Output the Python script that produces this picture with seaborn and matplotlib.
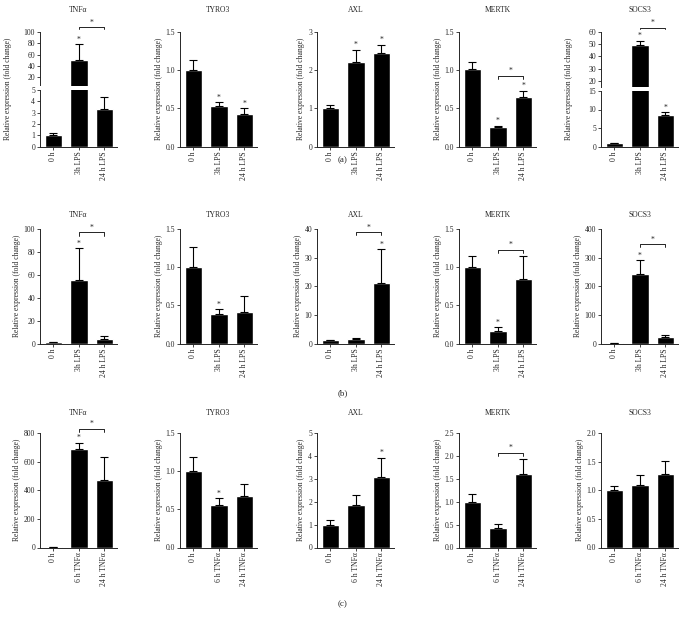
import numpy as np
import seaborn as sns
import matplotlib.pyplot as plt
from matplotlib.ticker import FormatStrFormatter

genes = ["TNFα", "TYRO3", "AXL", "MERTK", "SOCS3"]
lps_groups = ["0 h", "3h LPS", "24 h LPS"]
tnf_groups = ["0 h", "6 h TNFα", "24 h TNFα"]

# (a) LPS
a_means = [[1.05, 50, 3.3], [1.0, 0.53, 0.42], [1.0, 2.22, 2.45], [1.01, 0.26, 0.65], [1.0, 49, 8.4]]
a_errs = [[0.12, 28, 1.1], [0.13, 0.05, 0.08], [0.08, 0.32, 0.22], [0.10, 0.015, 0.08], [0.05, 4, 0.9]]
a_stars = [[0, 1, 0], [0, 1, 1], [0, 1, 1], [0, 1, 1], [0, 1, 1]]
a_brackets = [109, None, None, 0.93, 63.5]

# (b) LPS
b_means = [[1.0, 55.5, 4.2], [1.0, 0.39, 0.41], [1.1, 1.6, 21], [1.0, 0.17, 0.84], [1.0, 243, 22]]
b_errs = [[0.3, 27.5, 2.6], [0.27, 0.06, 0.21], [0.25, 0.35, 12], [0.15, 0.04, 0.31], [0.3, 48, 6]]
b_stars = [[0, 1, 0], [0, 1, 0], [0, 0, 1], [0, 1, 0], [0, 1, 0]]
b_brackets = [97, None, 39, 1.23, 348]

# (c) TNFα
c_means = [[2, 688, 470], [1.0, 0.56, 0.67], [1.0, 1.86, 3.1], [1.0, 0.43, 1.6], [1.0, 1.1, 1.28]]
c_errs = [[1, 45, 165], [0.18, 0.09, 0.16], [0.18, 0.44, 0.82], [0.17, 0.09, 0.33], [0.07, 0.17, 0.23]]
c_stars = [[0, 1, 0], [0, 1, 0], [0, 0, 1], [0, 0, 0], [0, 0, 0]]
c_brackets = [830, None, None, 2.07, None]

a_ylims = [None, 1.5, 3, 1.5, None]
b_ylims = [100, 1.5, 40, 1.5, 400]
c_ylims = [800, 1.5, 5, 2.5, 2.0]
a_steps = [None, 0.5, 1, 0.5, None]
b_steps = [20, 0.5, 10, 0.5, 100]
c_steps = [200, 0.5, 1, 0.5, 0.5]

sns.set_style("ticks")
plt.rcParams['font.family'] = ['Liberation Serif', 'DejaVu Serif']
plt.rcParams['axes.linewidth'] = 0.7

W, H = 686, 626
fig = plt.figure(figsize=(6.86, 6.26), dpi=100)

col_left = [40, 180, 317, 459, 601]
ax_w = 77
row_top = [32, 229, 433]
ax_h = 114.5
title_y = [10, 215, 413]
FS = 5.5
YLABEL = "Relative expression (fold change)"


def add_ax(x, y_top, h):
    return fig.add_axes([x / W, 1 - (y_top + h) / H, ax_w / W, h / H])


def style_ax(ax, show_x=True):
    sns.despine(ax=ax)
    ax.set_xlim(-0.53, 2.5)
    ax.tick_params(axis='both', length=2, width=0.6, pad=1.5, labelsize=FS)
    ax.tick_params(axis='x', labelrotation=90)
    ax.set_xlabel("")
    ax.set_ylabel("")
    if not show_x:
        ax.spines['bottom'].set_visible(False)
        ax.tick_params(axis='x', bottom=False, labelbottom=False)


def draw_bars(ax, groups, means, errs, keep=(True, True, True)):
    sns.barplot(x=groups, y=means, color='black', saturation=1, width=0.69,
                errorbar=None, ax=ax)
    idx = [i for i in range(3) if keep[i]]
    if idx:
        m = np.array(means)[idx]
        e = np.array(errs)[idx]
        ax.errorbar(idx, m, yerr=[np.zeros(len(idx)), e], fmt='none',
                    ecolor='black', elinewidth=0.8, capsize=2.6, capthick=0.8)


def star(ax, x, y):
    ax.annotate('*', (x, y), xytext=(0, 0.3), textcoords='offset points',
                ha='center', va='bottom', fontsize=FS, annotation_clip=False)


def bracket(ax, y, span):
    d = 0.03 * span
    ax.plot([1, 1, 2, 2], [y - d, y, y, y - d], color='black', lw=0.6, clip_on=False)
    star(ax, 1.5, y)


def simple_panel(x, top, groups, means, errs, stars, br, ymax, step):
    ax = add_ax(x, top, ax_h)
    draw_bars(ax, groups, means, errs)
    ax.set_ylim(0, ymax)
    ax.set_yticks(np.arange(0, ymax + step / 2, step))
    style_ax(ax)
    if step < 1:
        ax.yaxis.set_major_formatter(FormatStrFormatter('%.1f'))
    ax.set_ylabel(YLABEL, fontsize=FS, labelpad=2)
    for i in range(3):
        if stars[i]:
            star(ax, i, means[i] + errs[i])
    if br is not None:
        bracket(ax, br, ymax)
    return ax


def broken_panel(x, top, groups, means, errs, stars, br, lo, hi, lo_ticks, hi_ticks, gap_top, gap_bot):
    bottom = top + ax_h
    ax_hi = add_ax(x, top, gap_top - top)
    ax_lo = add_ax(x, gap_bot, bottom - gap_bot)
    tops = [m + e for m, e in zip(means, errs)]
    draw_bars(ax_hi, groups, means, errs, keep=[m > lo for m in means])
    draw_bars(ax_lo, groups, means, errs, keep=[t <= lo for t in tops])
    ax_lo.set_ylim(0, lo)
    ax_hi.set_ylim(lo, hi)
    ax_lo.set_yticks(lo_ticks)
    ax_hi.set_yticks(hi_ticks)
    style_ax(ax_lo)
    style_ax(ax_hi, show_x=False)
    ax_lo.set_ylabel(YLABEL, fontsize=FS)
    mid = (top + bottom) / 2
    ax_lo.yaxis.set_label_coords(-0.36, (bottom - mid) / (bottom - gap_bot))
    for i in range(3):
        if stars[i]:
            star(ax_hi if tops[i] > lo else ax_lo, i, tops[i])
    if br is not None:
        bracket(ax_hi, br, hi - lo)


rows = [
    (lps_groups, a_means, a_errs, a_stars, a_brackets, a_ylims, a_steps),
    (lps_groups, b_means, b_errs, b_stars, b_brackets, b_ylims, b_steps),
    (tnf_groups, c_means, c_errs, c_stars, c_brackets, c_ylims, c_steps),
]

for r, (groups, means, errs, stars, brs, ylims, steps) in enumerate(rows):
    for c, gene in enumerate(genes):
        x = col_left[c]
        top = row_top[r]
        if r == 0 and c == 0:
            broken_panel(x, top, groups, means[c], errs[c], stars[c], brs[c],
                         5, 100, [0, 1, 2, 3, 4, 5], [20, 40, 60, 80, 100], 85.5, 90)
        elif r == 0 and c == 4:
            broken_panel(x, top, groups, means[c], errs[c], stars[c], brs[c],
                         15, 60, [0, 5, 10, 15], [20, 30, 40, 50, 60], 87, 91)
        else:
            simple_panel(x, top, groups, means[c], errs[c], stars[c], brs[c],
                         ylims[c], steps[c])
        fig.text((x + ax_w / 2) / W, 1 - title_y[r] / H, gene, ha='center',
                 va='center', fontsize=FS)

for label, y in zip(["(a)", "(b)", "(c)"], [160, 393, 604]):
    fig.text(343 / W, 1 - y / H, label, ha='center', va='center', fontsize=6.5)

fig.savefig("out.png", dpi=100)
